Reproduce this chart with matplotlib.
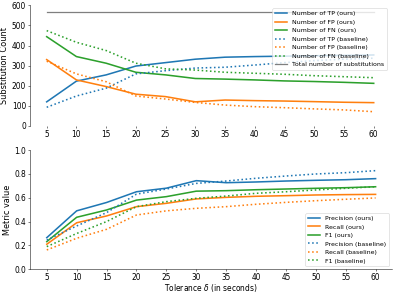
import matplotlib
matplotlib.use("Agg")
import matplotlib.pyplot as plt

tolerance = [5, 10, 15, 20, 25, 30, 35, 40, 45, 50, 55, 60]

# counts (top panel)
tp_ours = [120, 223, 254, 298, 315, 332, 342, 345, 347, 349, 351, 353]
fp_ours = [330, 229, 196, 158, 146, 120, 129, 126, 124, 121, 118, 116]
fn_ours = [444, 345, 312, 267, 254, 236, 233, 229, 224, 221, 217, 212]
tp_base = [93, 149, 188, 259, 275, 288, 292, 303, 315, 325, 332, 337]
fp_base = [322, 259, 220, 149, 134, 117, 104, 96, 91, 85, 80, 71]
fn_base = [474, 416, 375, 312, 284, 278, 267, 262, 257, 250, 245, 240]
total_subs = 565

# metrics (bottom panel)
prec_ours = [0.265, 0.49, 0.56, 0.65, 0.68, 0.743, 0.726, 0.732, 0.74, 0.746, 0.751, 0.76]
rec_ours = [0.21, 0.39, 0.447, 0.525, 0.553, 0.59, 0.603, 0.612, 0.617, 0.623, 0.626, 0.628]
f1_ours = [0.232, 0.436, 0.497, 0.58, 0.609, 0.655, 0.659, 0.667, 0.673, 0.679, 0.684, 0.692]
prec_base = [0.245, 0.363, 0.475, 0.63, 0.673, 0.72, 0.74, 0.763, 0.782, 0.799, 0.81, 0.827]
rec_base = [0.162, 0.26, 0.335, 0.455, 0.49, 0.511, 0.525, 0.545, 0.561, 0.575, 0.587, 0.598]
f1_base = [0.19, 0.30, 0.40, 0.525, 0.567, 0.595, 0.614, 0.637, 0.65, 0.665, 0.679, 0.692]

blue, orange, green = "tab:blue", "tab:orange", "tab:green"
lw = 2.5
tick_fs, label_fs, legend_fs = 12, 13, 10

fig = plt.figure(figsize=(394 / 45, 293 / 45), dpi=45)
ax1 = fig.add_axes([0.077, 0.570, 0.913, 0.412])
ax2 = fig.add_axes([0.077, 0.081, 0.918, 0.407])

ax1.plot(tolerance, tp_ours, color=blue, lw=lw, label="Number of TP (ours)")
ax1.plot(tolerance, fp_ours, color=orange, lw=lw, label="Number of FP (ours)")
ax1.plot(tolerance, fn_ours, color=green, lw=lw, label="Number of FN (ours)")
ax1.plot(tolerance, tp_base, color=blue, lw=lw, ls=":", label="Number of TP (baseline)")
ax1.plot(tolerance, fp_base, color=orange, lw=lw, ls=":", label="Number of FP (baseline)")
ax1.plot(tolerance, fn_base, color=green, lw=lw, ls=":", label="Number of FN (baseline)")
ax1.plot(tolerance, [total_subs] * len(tolerance), color="tab:gray", lw=2,
         label="Total number of substitutions")
ax1.set_ylim(0, 600)
ax1.set_ylabel("Substitution Count", fontsize=label_fs)
ax1.set_xticks(tolerance)
ax1.tick_params(labelsize=tick_fs)
ax1.legend(loc="upper right", fontsize=legend_fs)
for s in ["top", "right", "bottom"]:
    ax1.spines[s].set_visible(False)

ax2.plot(tolerance, prec_ours, color=blue, lw=lw, label="Precision (ours)")
ax2.plot(tolerance, rec_ours, color=orange, lw=lw, label="Recall (ours)")
ax2.plot(tolerance, f1_ours, color=green, lw=lw, label="F1 (ours)")
ax2.plot(tolerance, prec_base, color=blue, lw=lw, ls=":", label="Precision (baseline)")
ax2.plot(tolerance, rec_base, color=orange, lw=lw, ls=":", label="Recall (baseline)")
ax2.plot(tolerance, f1_base, color=green, lw=lw, ls=":", label="F1 (baseline)")
ax2.set_ylim(0, 1.0)
ax2.set_xticks(tolerance)
ax2.tick_params(labelsize=tick_fs)
ax2.tick_params(axis="x", pad=2)
ax2.set_ylabel("Metric value", fontsize=label_fs)
ax2.set_xlabel(r"Tolerance $\delta$ (in seconds)", fontsize=12, labelpad=0)
ax2.legend(loc="lower right", fontsize=legend_fs)
for s in ["top", "right"]:
    ax2.spines[s].set_visible(False)

fig.savefig("out.png", dpi=45)
